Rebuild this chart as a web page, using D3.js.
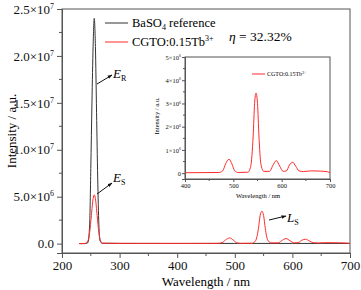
<!DOCTYPE html>
<html>
<head>
<meta charset="utf-8">
<script src="https://cdn.jsdelivr.net/npm/d3@7"></script>
<style>
  body { margin: 0; background: #fff; }
  svg, svg text { font-family: "Liberation Serif", "Times New Roman", "DejaVu Serif", serif; }
</style>
</head>
<body>
<div id="chart"></div>
<script>
// BaSO4 reference (wavelength nm, intensity)
const refWave = [230, 240, 245, 248, 250, 252, 254, 256, 258, 260, 262, 264, 266, 270, 300, 400, 500, 600, 700];
const refValue = [0, 0, 0.1e6, 2e6, 8e6, 15e6, 21e6, 24e6, 21e6, 14e6, 7e6, 2e6, 0.3e6, 0.03e6, 0.02e6, 0.02e6, 0.02e6, 0.02e6, 0.02e6];

// CGTO:0.15Tb3+ sample (scatter + emission)
const sampleWave = [230, 240, 245, 248, 251, 254, 256, 258, 261, 264, 267, 270, 300, 400,
    470, 478, 484, 491, 497, 503, 510, 530, 536, 541, 544, 547, 550, 553, 557, 563,
    575, 581, 589, 596, 603, 610, 616, 623, 629, 636, 645, 660, 680, 695, 700];
const sampleValue = [0, 0.02e6, 0.3e6, 1.2e6, 3e6, 4.8e6, 5.2e6, 4.8e6, 3e6, 1.2e6, 0.3e6, 0.05e6, 0.03e6, 0.02e6,
    0.03e6, 0.1e6, 0.4e6, 0.6e6, 0.4e6, 0.1e6, 0.03e6, 0.04e6, 0.3e6, 1.6e6, 3.0e6, 3.45e6, 3.0e6, 1.6e6, 0.4e6, 0.08e6,
    0.08e6, 0.3e6, 0.54e6, 0.3e6, 0.08e6, 0.1e6, 0.35e6, 0.47e6, 0.3e6, 0.1e6, 0.07e6, 0.1e6, 0.09e6, 0.06e6, 0.02e6];

// tick labels
const xTicks = [200, 300, 400, 500, 600, 700];
const xMinor = [250, 350, 450, 550, 650];
const yTicks = [0, 5e6, 1e7, 1.5e7, 2e7, 2.5e7];
const yTickMant = ["0.0", "5.0×10", "1.0×10", "1.5×10", "2.0×10", "2.5×10"];
const yTickExp = ["", "6", "7", "7", "7", "7"];
const yMinor = [2.5e6, 7.5e6, 1.25e7, 1.75e7, 2.25e7];

const insetXTicks = [400, 500, 600, 700];
const insetXMinor = [450, 550, 650];
const insetYTicks = [0, 1e6, 2e6, 3e6, 4e6, 5e6];
const insetYMant = ["0", "1×10", "2×10", "3×10", "4×10", "5×10"];
const insetYExp = ["", "6", "6", "6", "6", "6"];
const insetYMinor = [0.5e6, 1.5e6, 2.5e6, 3.5e6, 4.5e6];

const refData = refWave.map((w, i) => ({w: w, v: refValue[i]}));
const sampleData = sampleWave.map((w, i) => ({w: w, v: sampleValue[i]}));

const W = 361, H = 290;
const axisColor = "#555";
const red = "#ff2a2a";
const serif = "Liberation Serif";

const svg = d3.select("#chart").append("svg")
    .attr("width", W)
    .attr("height", H)
    .attr("font-family", serif);

// main scales
const x = d3.scaleLinear().domain([200, 700]).range([62, 350]);
const y = d3.scaleLinear().domain([-1e6, 2.5e7]).range([253, 9]);

// frame
svg.append("rect")
    .attr("x", 62).attr("y", 9)
    .attr("width", 288).attr("height", 244)
    .attr("fill", "none")
    .attr("stroke", axisColor)
    .attr("stroke-width", 1);

// x axis
const xAxis = svg.append("g")
    .attr("transform", "translate(0,253)")
    .call(d3.axisBottom(x).tickValues(xTicks).tickSize(5).tickPadding(3).tickFormat(d3.format("d")));
xAxis.append("g").selectAll("line").data(xMinor).enter().append("line")
    .attr("x1", d => x(d)).attr("x2", d => x(d))
    .attr("y1", 0).attr("y2", 3)
    .attr("stroke", axisColor);

// y axis
const yAxis = svg.append("g")
    .attr("transform", "translate(62,0)")
    .call(d3.axisLeft(y).tickValues(yTicks).tickSize(5).tickPadding(3).tickFormat(""));
yAxis.append("g").selectAll("line").data(yMinor).enter().append("line")
    .attr("x1", 0).attr("x2", -3)
    .attr("y1", d => y(d)).attr("y2", d => y(d))
    .attr("stroke", axisColor);
yAxis.selectAll(".tick text").each(function(d, i) {
    const t = d3.select(this);
    t.append("tspan").text(yTickMant[i]);
    if (yTickExp[i]) {
        t.append("tspan").attr("dy", -5).attr("font-size", 8).text(yTickExp[i]);
    }
});

[xAxis, yAxis].forEach(a => {
    a.attr("font-family", serif);
    a.select(".domain").attr("stroke", axisColor);
    a.selectAll(".tick line").attr("stroke", axisColor);
    a.selectAll("text").attr("font-size", 13).attr("fill", "#111");
});

// axis titles
svg.append("text")
    .attr("x", 206).attr("y", 286)
    .attr("text-anchor", "middle")
    .attr("font-size", 13)
    .text("Wavelength / nm");
svg.append("text")
    .attr("transform", "translate(16,131) rotate(-90)")
    .attr("text-anchor", "middle")
    .attr("font-size", 13)
    .text("Intensity / a.u.");

// lines
const line = d3.line()
    .x(d => x(d.w))
    .y(d => y(d.v))
    .curve(d3.curveMonotoneX);

svg.append("path")
    .datum(refData)
    .attr("d", line)
    .attr("fill", "none")
    .attr("stroke", "#333")
    .attr("stroke-width", 1);

svg.append("path")
    .datum(sampleData)
    .attr("d", line)
    .attr("fill", "none")
    .attr("stroke", red)
    .attr("stroke-width", 1);

// legend
const legend = svg.append("g");
legend.append("line").attr("x1", 105).attr("x2", 128).attr("y1", 23).attr("y2", 23)
    .attr("stroke", "#333");
const t1 = legend.append("text").attr("x", 132).attr("y", 27).attr("font-size", 12.5);
t1.append("tspan").text("BaSO");
t1.append("tspan").attr("dy", 3).attr("font-size", 8).text("4");
t1.append("tspan").attr("dy", -3).text(" reference");
legend.append("line").attr("x1", 105).attr("x2", 128).attr("y1", 42).attr("y2", 42)
    .attr("stroke", red);
const t2 = legend.append("text").attr("x", 132).attr("y", 46).attr("font-size", 12.5);
t2.append("tspan").text("CGTO:0.15Tb");
t2.append("tspan").attr("dy", -5).attr("font-size", 8).text("3+");

// efficiency
const eta = svg.append("text").attr("x", 229).attr("y", 41).attr("font-size", 13.5);
eta.append("tspan").attr("font-style", "italic").text("η");
eta.append("tspan").text(" = 32.32%");

// arrow marker
svg.append("defs").append("marker")
    .attr("id", "arr")
    .attr("viewBox", "0 0 10 10")
    .attr("refX", 9).attr("refY", 5)
    .attr("markerWidth", 5).attr("markerHeight", 5)
    .attr("orient", "auto")
    .append("path")
    .attr("d", "M0,1.5L10,5L0,8.5Z")
    .attr("fill", "#111");

function annot(x1, y1, x2, y2, tx, ty, main, sub) {
    svg.append("line")
        .attr("x1", x1).attr("y1", y1).attr("x2", x2).attr("y2", y2)
        .attr("stroke", "#111").attr("stroke-width", 1)
        .attr("marker-end", "url(#arr)");
    const t = svg.append("text").attr("x", tx).attr("y", ty).attr("font-size", 13);
    t.append("tspan").attr("font-style", "italic").text(main);
    t.append("tspan").attr("dy", 3).attr("font-size", 8).text(sub);
}
annot(97, 84, 112, 75, 113, 78, "E", "R");
annot(97, 194, 112, 183, 113, 182, "E", "S");
annot(269, 220, 286, 216, 287, 222, "L", "S");

// inset
const ix = d3.scaleLinear().domain([400, 700]).range([185, 330]);
const iy = d3.scaleLinear().domain([-2.5e5, 5e6]).range([179, 57]);
const inset = svg.append("g");

inset.append("rect")
    .attr("x", 185).attr("y", 57)
    .attr("width", 145).attr("height", 122)
    .attr("fill", "#fff")
    .attr("stroke", axisColor)
    .attr("stroke-width", 1);

const ixAxis = inset.append("g")
    .attr("transform", "translate(0,179)")
    .call(d3.axisBottom(ix).tickValues(insetXTicks).tickSize(3).tickPadding(1).tickFormat(d3.format("d")));
ixAxis.append("g").selectAll("line").data(insetXMinor).enter().append("line")
    .attr("x1", d => ix(d)).attr("x2", d => ix(d))
    .attr("y1", 0).attr("y2", 2)
    .attr("stroke", axisColor);

const iyAxis = inset.append("g")
    .attr("transform", "translate(185,0)")
    .call(d3.axisLeft(iy).tickValues(insetYTicks).tickSize(3).tickPadding(1).tickFormat(""));
iyAxis.append("g").selectAll("line").data(insetYMinor).enter().append("line")
    .attr("x1", 0).attr("x2", -2)
    .attr("y1", d => iy(d)).attr("y2", d => iy(d))
    .attr("stroke", axisColor);
iyAxis.selectAll(".tick text").each(function(d, i) {
    const t = d3.select(this);
    t.append("tspan").text(insetYMant[i]);
    if (insetYExp[i]) {
        t.append("tspan").attr("dy", -2.5).attr("font-size", 4).text(insetYExp[i]);
    }
});

[ixAxis, iyAxis].forEach(a => {
    a.attr("font-family", serif);
    a.select(".domain").attr("stroke", axisColor);
    a.selectAll(".tick line").attr("stroke", axisColor);
    a.selectAll("text").attr("font-size", 6.5).attr("fill", "#111");
});

inset.append("text")
    .attr("x", 258).attr("y", 198)
    .attr("text-anchor", "middle")
    .attr("font-size", 6.5)
    .text("Wavelength / nm");
inset.append("text")
    .attr("transform", "translate(159,116) rotate(-90)")
    .attr("text-anchor", "middle")
    .attr("font-size", 6.5)
    .text("Intensity / a.u.");

const iline = d3.line()
    .x(d => ix(d.w))
    .y(d => iy(d.v))
    .curve(d3.curveMonotoneX);

inset.append("path")
    .datum(sampleData.filter(d => d.w >= 400))
    .attr("d", iline)
    .attr("fill", "none")
    .attr("stroke", red)
    .attr("stroke-width", 1);

inset.append("line").attr("x1", 252).attr("x2", 265).attr("y1", 74).attr("y2", 74)
    .attr("stroke", red);
const it = inset.append("text").attr("x", 267).attr("y", 76).attr("font-size", 6);
it.append("tspan").text("CGTO:0.15Tb");
it.append("tspan").attr("dy", -2.5).attr("font-size", 4).text("3+");
</script>
</body>
</html>
